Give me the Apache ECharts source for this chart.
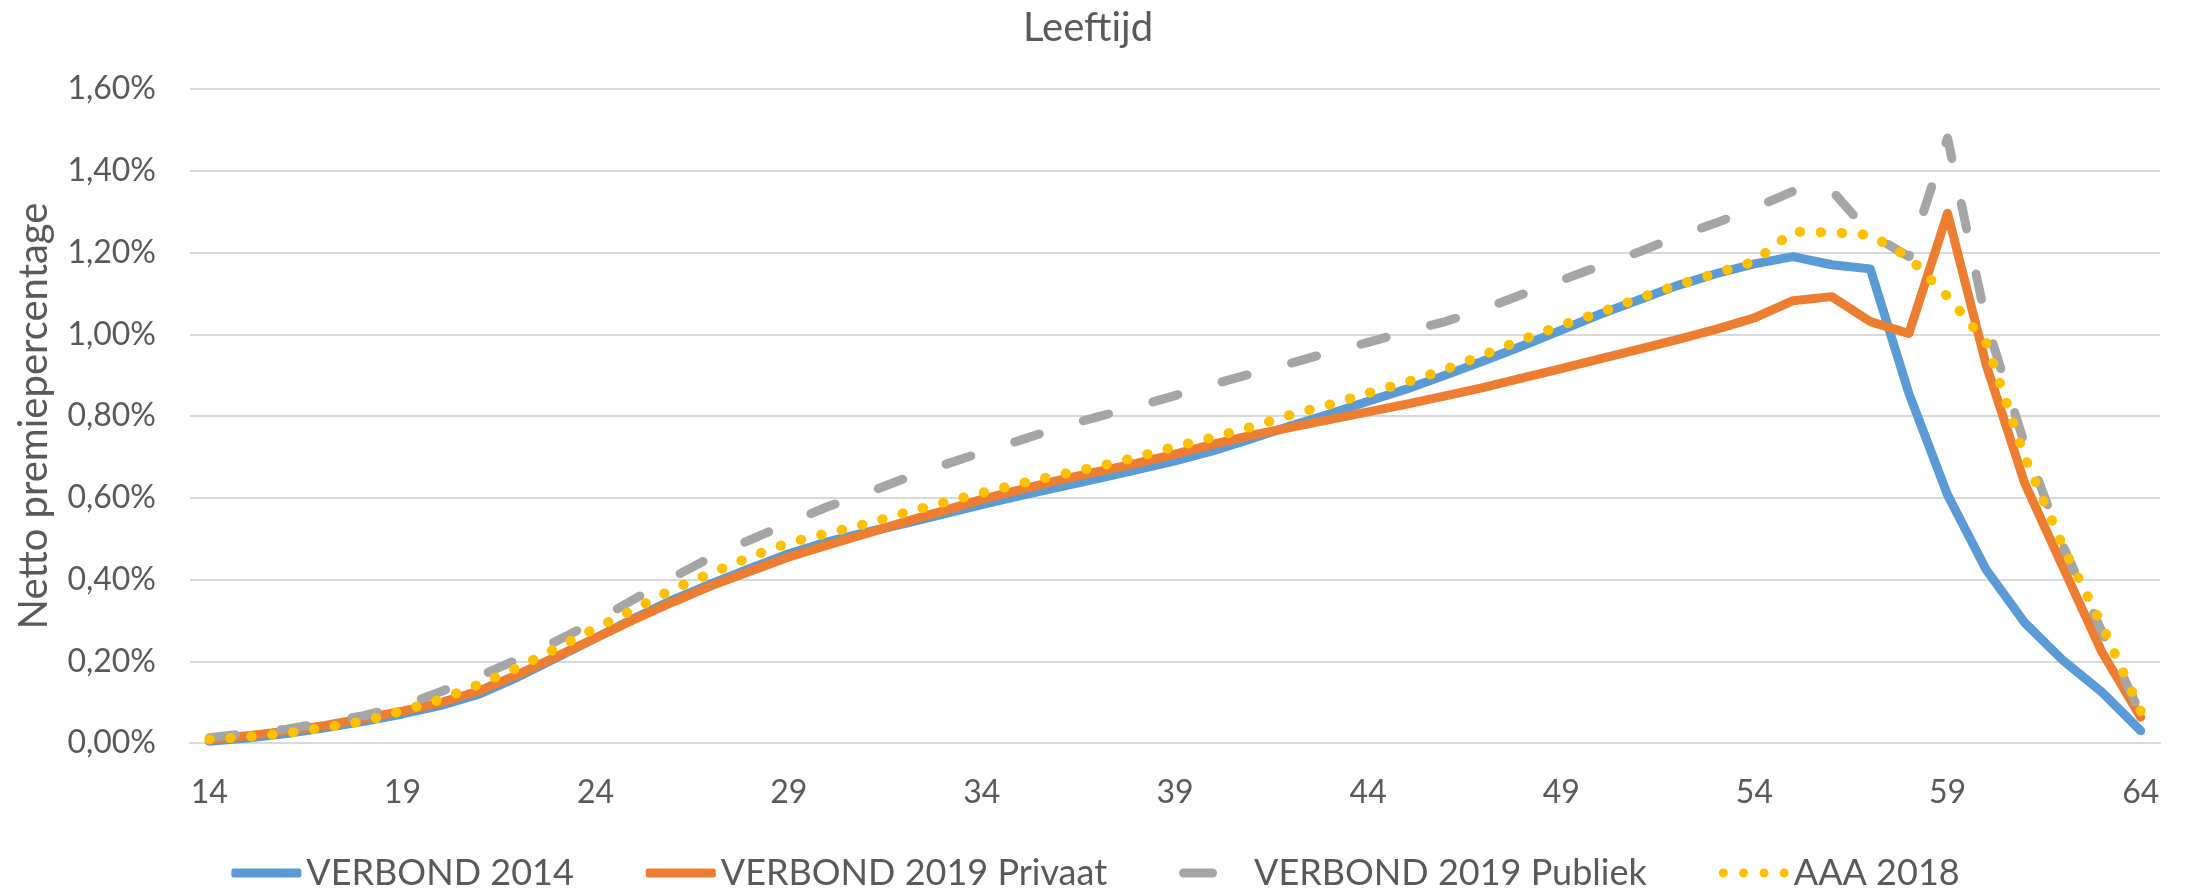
<!DOCTYPE html>
<html>
<head>
<meta charset="utf-8">
<script src="https://cdn.jsdelivr.net/npm/echarts@6/dist/echarts.min.js"></script>
<style>
html,body{margin:0;padding:0;background:#fff;}
#chart{width:2191px;height:893px;}
</style>
</head>
<body>
<div id="chart"></div>
<script>
const ages = [14,15,16,17,18,19,20,21,22,23,24,25,26,27,28,29,30,31,32,33,34,35,36,37,38,39,40,41,42,43,44,45,46,47,48,49,50,51,52,53,54,55,56,57,58,59,60,61,62,63,64];

const verbond2014 = [0.004,0.012,0.023,0.037,0.053,0.071,0.092,0.120,0.162,0.209,0.257,0.305,0.350,0.390,0.427,0.463,0.492,0.515,0.537,0.560,0.583,0.605,0.626,0.647,0.668,0.690,0.715,0.745,0.776,0.805,0.836,0.866,0.900,0.935,0.972,1.010,1.049,1.084,1.119,1.148,1.172,1.190,1.170,1.160,0.855,0.607,0.424,0.294,0.201,0.124,0.030];

const verbond2019Privaat = [0.008,0.018,0.029,0.043,0.060,0.078,0.099,0.128,0.168,0.212,0.257,0.302,0.345,0.385,0.420,0.455,0.484,0.512,0.541,0.568,0.596,0.620,0.643,0.664,0.684,0.707,0.731,0.753,0.772,0.791,0.810,0.829,0.849,0.870,0.893,0.916,0.940,0.963,0.987,1.012,1.040,1.082,1.092,1.031,1.002,1.296,0.925,0.635,0.428,0.222,0.063];

const verbond2019Publiek = [0.013,0.024,0.034,0.050,0.067,0.091,0.126,0.164,0.205,0.250,0.298,0.352,0.405,0.455,0.497,0.538,0.578,0.611,0.647,0.680,0.711,0.741,0.772,0.798,0.823,0.850,0.878,0.904,0.929,0.956,0.980,1.007,1.031,1.062,1.098,1.132,1.167,1.201,1.239,1.272,1.309,1.350,1.352,1.245,1.190,1.480,1.030,0.730,0.480,0.272,0.072];

const aaa2018 = [0.009,0.015,0.024,0.038,0.053,0.079,0.107,0.144,0.185,0.233,0.281,0.327,0.376,0.416,0.455,0.490,0.513,0.536,0.563,0.588,0.612,0.635,0.656,0.676,0.699,0.725,0.748,0.774,0.803,0.828,0.856,0.883,0.914,0.950,0.987,1.022,1.053,1.088,1.120,1.149,1.178,1.251,1.249,1.243,1.188,1.092,0.980,0.700,0.478,0.288,0.078];

const seriesNames = ['VERBOND 2014','VERBOND 2019 Privaat','VERBOND 2019 Publiek','AAA 2018'];
const titleText = 'Leeftijd';
const yAxisName = 'Netto premiepercentage';

const FONT = 'Lato, "Open Sans", sans-serif';
const TXT = '#595959';

// legend icon shapes (70 x 9 box)
const ICON_DASH = 'path://M0,0 M70,9 M4.5,0 L33.5,0 A4.5,4.5 0 0 1 33.5,9 L4.5,9 A4.5,4.5 0 0 1 4.5,0 Z';
const dot = cx => `M${cx},0 A4.5,4.5 0 0 1 ${cx},9 A4.5,4.5 0 0 1 ${cx},0 Z `;
const ICON_DOTS = 'path://M0,0 M70,9 ' + dot(4.5) + dot(24.8) + dot(45.2) + dot(65.5);

const chart = echarts.init(document.getElementById('chart'), null, {renderer:'canvas'});
chart.setOption({
  animation: false,
  backgroundColor: '#fff',
  title: {
    text: titleText,
    left: 1083,
    textAlign: 'center',
    top: 3,
    textStyle: {fontFamily: FONT, fontSize: 40, fontWeight: 'normal', color: TXT}
  },
  legend: {
    bottom: -3,
    left: 'center',
    itemWidth: 70,
    itemHeight: 9,
    itemGap: 72,
    textStyle: {fontFamily: FONT, fontSize: 36, color: TXT},
    data: [
      {name: seriesNames[0], icon: 'roundRect'},
      {name: seriesNames[1], icon: 'roundRect'},
      {name: seriesNames[2], icon: ICON_DASH},
      {name: seriesNames[3], icon: ICON_DOTS}
    ]
  },
  grid: {left: 190, right: 31, top: 89, bottom: 150},
  xAxis: {
    type: 'category',
    data: ages,
    boundaryGap: true,
    axisTick: {show: false},
    axisLine: {lineStyle: {color: '#D9D9D9', width: 2}},
    axisLabel: {interval: 4, margin: 34, fontFamily: FONT, fontSize: 32, color: TXT}
  },
  yAxis: {
    type: 'value',
    min: 0, max: 1.6, interval: 0.2,
    name: yAxisName,
    nameLocation: 'middle',
    nameGap: 136,
    nameTextStyle: {fontFamily: FONT, fontSize: 40, color: TXT},
    axisLine: {show: false},
    axisTick: {show: false},
    splitLine: {lineStyle: {color: '#D9D9D9', width: 2}},
    axisLabel: {
      margin: 34, fontFamily: FONT, fontSize: 32, color: TXT,
      formatter: v => v.toFixed(2).replace('.', ',') + '%'
    }
  },
  series: [
    {name: seriesNames[0], type: 'line', data: verbond2014, symbol: 'none',
     lineStyle: {color: '#5B9BD5', width: 9, cap: 'round', join: 'round'}, itemStyle: {color: '#5B9BD5'}},
    {name: seriesNames[1], type: 'line', data: verbond2019Privaat, symbol: 'none',
     lineStyle: {color: '#ED7D31', width: 9, cap: 'round', join: 'round'}, itemStyle: {color: '#ED7D31'}},
    {name: seriesNames[2], type: 'line', data: verbond2019Publiek, symbol: 'none',
     lineStyle: {color: '#A5A5A5', width: 9, type: [26, 46], cap: 'round', join: 'round'}, itemStyle: {color: '#A5A5A5'}},
    {name: seriesNames[3], type: 'line', data: aaa2018, symbol: 'none',
     lineStyle: {color: '#FFC000', width: 10, type: [0.5, 20.5], cap: 'round', join: 'round'}, itemStyle: {color: '#FFC000'}}
  ]
});
</script>
</body>
</html>
